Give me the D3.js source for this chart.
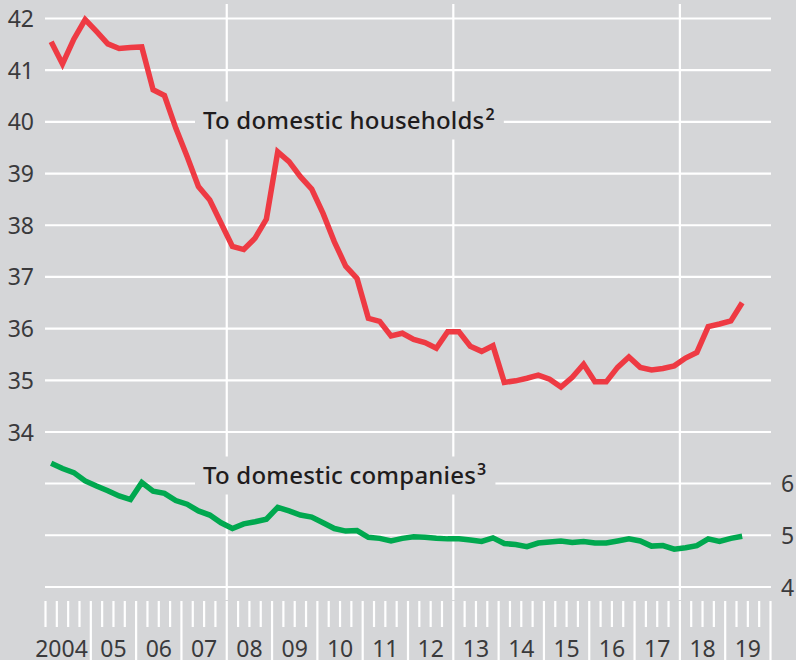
<!DOCTYPE html>
<html><head><meta charset="utf-8">
<script src="https://cdn.jsdelivr.net/npm/d3@7"></script>
<style>
html,body{margin:0;padding:0;background:#d5d6d8;}
svg{display:block;}
text{font-family:"Noto Sans",sans-serif;}
</style></head>
<body>
<svg id="chart" width="796" height="660"></svg>
<script>
// Quarterly data, 2004 Q1 – 2019 Q2
const startYear = 2004;
const households = [41.55,41.12,41.6,41.98,41.75,41.51,41.42,41.44,41.45,40.62,40.51,39.88,39.33,38.75,38.49,38.04,
  37.59,37.53,37.75,38.12,39.42,39.23,38.94,38.70,38.23,37.68,37.21,36.97,36.20,36.14,35.86,35.91,
  35.79,35.73,35.62,35.94,35.94,35.66,35.56,35.67,34.96,34.99,35.04,35.10,35.02,34.87,35.06,35.31,
  34.97,34.97,35.25,35.45,35.25,35.20,35.23,35.28,35.43,35.54,36.04,36.09,36.15,36.50];
const companies = [6.39,6.29,6.21,6.05,5.95,5.86,5.76,5.69,6.02,5.85,5.81,5.67,5.60,5.47,5.39,5.24,
  5.13,5.22,5.26,5.31,5.54,5.47,5.39,5.35,5.24,5.13,5.08,5.09,4.96,4.94,4.89,4.94,
  4.97,4.96,4.94,4.93,4.93,4.91,4.88,4.95,4.84,4.82,4.78,4.85,4.87,4.89,4.86,4.88,
  4.85,4.85,4.89,4.93,4.89,4.79,4.80,4.73,4.76,4.80,4.93,4.88,4.94,4.98];
const yearLabels = ["2004","05","06","07","08","09","10","11","12","13","14","15","16","17","18","19"];
const leftTicks = [34,35,36,37,38,39,40,41,42];
const rightTicks = [4,5,6];
const verticalGridYears = [2008,2013,2018];
const labelHouseholds = ["To domestic households","2"];
const labelCompanies = ["To domestic companies","3"];

const svg = d3.select("#chart");
const bg = "#d5d6d8";
svg.append("rect").attr("width",796).attr("height",660).attr("fill",bg);

const x = d3.scaleLinear().domain([2004,2020]).range([45.5,770.5]);
const yTop = d3.scaleLinear().domain([34,42]).range([432,18.5]);
const yBot = d3.scaleLinear().domain([4,6]).range([587,483.5]);
const tDate = i => startYear + (i + 0.5)/4;

const grid = svg.append("g").attr("stroke","#fff").attr("stroke-width",2.2);
leftTicks.forEach(v=>{
  grid.append("line").attr("x1",45).attr("x2",771).attr("y1",yTop(v)).attr("y2",yTop(v));
});
rightTicks.forEach(v=>{
  grid.append("line").attr("x1",45).attr("x2",771).attr("y1",yBot(v)).attr("y2",yBot(v));
});
verticalGridYears.forEach(yr=>{
  grid.append("line").attr("x1",x(yr)).attr("x2",x(yr)).attr("y1",4).attr("y2",600);
});

// quarter ticks
const tickG = svg.append("g").attr("stroke","#fff").attr("stroke-width",2.2);
for (let yr=2004; yr<=2019; yr++){
  for (let q=0;q<4;q++){
    const tall = (q===0 && yr>2004);
    const xx = x(yr + q/4);
    tickG.append("line").attr("x1",xx).attr("x2",xx).attr("y1",601).attr("y2",tall?660:627);
  }
}
tickG.append("line").attr("x1",x(2020)).attr("x2",x(2020)).attr("y1",601).attr("y2",660);

// year labels
const lab = svg.append("g").attr("fill","#3a3a3c").attr("font-size",23);
yearLabels.forEach((t,i)=>{
  const yr = 2004+i;
  if (i===0){
    lab.append("text").attr("x",x(yr+1)-3).attr("y",656.5).attr("text-anchor","end").text(t);
  } else {
    lab.append("text").attr("x",x(yr+0.5)).attr("y",656.5).attr("text-anchor","middle").text(t);
  }
});
leftTicks.forEach(v=>{
  lab.append("text").attr("x",34).attr("y",yTop(v)+8.5).attr("text-anchor","end").text(v);
});
rightTicks.forEach(v=>{
  lab.append("text").attr("x",781).attr("y",yBot(v)+8.5).attr("text-anchor","start").text(v);
});

// series labels with background boxes
function seriesLabel(parts, xPos, baseline){
  const g = svg.append("g");
  const r = g.append("rect").attr("fill",bg);
  const t = g.append("text").attr("x",xPos).attr("y",baseline).attr("font-size",24)
    .attr("font-weight",500).attr("fill","#1f1c1d")
    .attr("letter-spacing",0.2);
  t.append("tspan").text(parts[0]);
  t.append("tspan").attr("font-size",16).attr("dx",1).attr("dy",-9).attr("font-weight",600).text(parts[1]);
  const bb = t.node().getBBox();
  r.attr("x",xPos-8).attr("y",baseline-27).attr("width",bb.width+17).attr("height",38);
}
seriesLabel(labelHouseholds, 203, 128.5);
seriesLabel(labelCompanies, 203, 483.5);

// lines
const lineTop = d3.line().x((d,i)=>x(tDate(i))).y(d=>yTop(d));
const lineBot = d3.line().x((d,i)=>x(tDate(i))).y(d=>yBot(d));
svg.append("path").datum(households).attr("d",lineTop).attr("fill","none")
  .attr("stroke","#ee3a43").attr("stroke-width",5.5).attr("stroke-linejoin","miter");
svg.append("path").datum(companies).attr("d",lineBot).attr("fill","none")
  .attr("stroke","#00a84f").attr("stroke-width",5.5).attr("stroke-linejoin","miter");
</script>
</body></html>
